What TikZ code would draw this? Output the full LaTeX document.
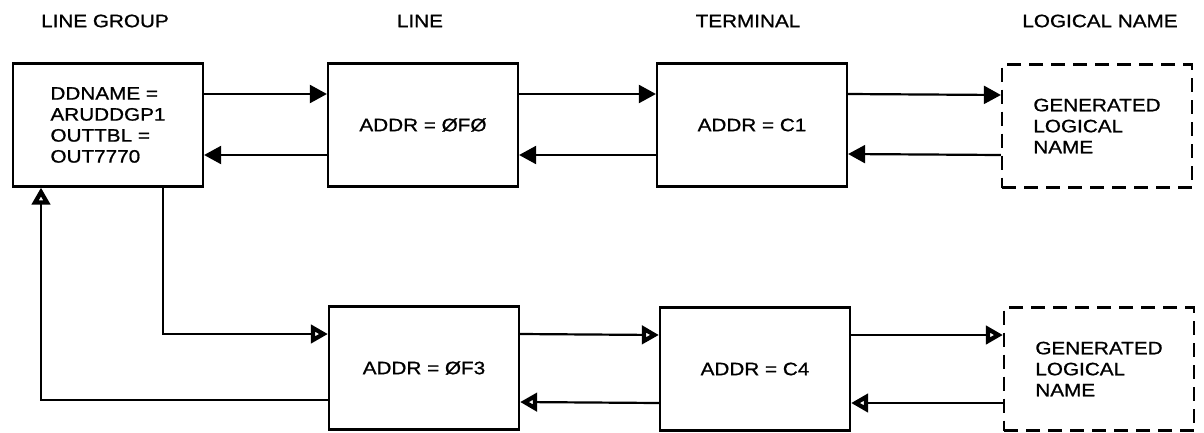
\documentclass[tikz,border=0pt]{standalone}
\usepackage{fontspec}
\setmainfont{Liberation Sans}[FakeStretch=1.15, FakeBold=0.9]
\usetikzlibrary{arrows.meta}

\begin{document}
\begin{tikzpicture}[x=1pt,y=-1pt,
  box/.style={draw, line width=2.2pt, minimum width=190pt, minimum height=123pt,
    align=left, font=\fontsize{18}{21}\selectfont},
  genbox/.style={box, dash pattern=on 14pt off 8pt},
  heading/.style={inner sep=0pt, font=\fontsize{18}{21}\selectfont},
  link/.style={line width=2.2pt, -{Triangle[length=17pt, width=18pt]}},
  backlink/.style={line width=2.2pt, -{Triangle[open, length=17pt, width=18pt, line width=4.5pt]}}]
\useasboundingbox (0,0) rectangle (1204,432);
% column headings
\node[heading] (hgroup) at (105,21) {LINE GROUP};
\node[heading] (hline) at (420,21) {LINE};
\node[heading] (hterm) at (748,21) {TERMINAL};
\node[heading] (hname) at (1100,21) {LOGICAL NAME};
% first line
\node[box] (lg) at (108,125) {DDNAME =\\ARUDDGP1\\OUTTBL =\\OUT7770};
\node[box] (l1) at (423,125) {ADDR = ØFØ};
\node[box] (t1) at (752,125) {ADDR = C1};
\node[genbox] (n1) at (1097,126) {GENERATED\\LOGICAL\\NAME};
% second line
\node[box] (l2) at (424,368) {ADDR = ØF3};
\node[box] (t2) at (755,369) {ADDR = C4};
\node[genbox] (n2) at (1099,369) {GENERATED\\LOGICAL\\NAME};
% chain of the first line
\draw[link] ([yshift=31pt]lg.east) -- ([yshift=31pt]l1.west);
\draw[link] ([yshift=-30pt]l1.west) -- ([yshift=-30pt]lg.east);
\draw[link] ([yshift=31pt]l1.east) -- ([yshift=31pt]t1.west);
\draw[link] ([yshift=-30pt]t1.west) -- ([yshift=-30pt]l1.east);
\draw[link] ([yshift=31pt]t1.east) -- ([yshift=31pt]n1.west);
\draw[link] ([yshift=-29pt]n1.west) -- ([yshift=-29pt]t1.east);
% chain of the second line
\draw[backlink] ([xshift=55pt]lg.south) |- ([yshift=34pt]l2.west);
\draw[backlink] ([yshift=-32pt]l2.west) -| ([xshift=-67pt]lg.south);
\draw[backlink] ([yshift=34pt]l2.east) -- ([yshift=34pt]t2.west);
\draw[backlink] ([yshift=-34pt]t2.west) -- ([yshift=-34pt]l2.east);
\draw[backlink] ([yshift=34pt]t2.east) -- ([yshift=34pt]n2.west);
\draw[backlink] ([yshift=-34pt]n2.west) -- ([yshift=-34pt]t2.east);
\end{tikzpicture}
\end{document}
